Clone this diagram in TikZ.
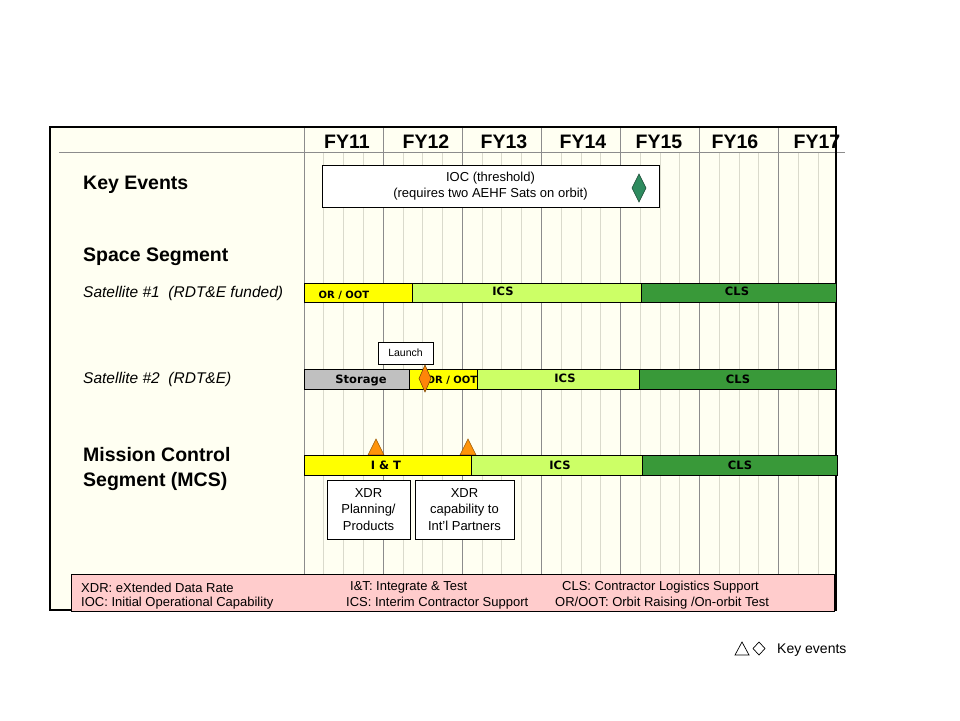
\documentclass[tikz,border=0pt]{standalone}
\usepackage{fontspec}
\setmainfont{Liberation Sans}
\newfontfamily\barfont{DejaVu Sans}

\definecolor{paper}{RGB}{255,255,242}
\definecolor{majorline}{RGB}{140,140,140}
\definecolor{minorline}{RGB}{218,218,204}
\definecolor{ooryellow}{RGB}{255,255,0}
\definecolor{icsgreen}{RGB}{204,255,102}
\definecolor{clsgreen}{RGB}{57,153,57}
\definecolor{storagegray}{RGB}{192,192,192}
\definecolor{legendpink}{RGB}{255,204,204}
\definecolor{eventorange}{RGB}{255,148,10}
\definecolor{eventgreen}{RGB}{46,139,95}

\tikzset{
    heading/.style={anchor=west, inner sep=0pt, font=\fontsize{19.5}{25}\selectfont\bfseries, align=left},
    rowlabel/.style={anchor=west, inner sep=0pt, font=\fontsize{15.5}{18}\selectfont\itshape},
    yearlabel/.style={inner sep=0pt, font=\fontsize{19.5}{23}\selectfont\bfseries},
    phase/.style={draw=black, line width=0.9pt},
    phasetext/.style={inner sep=0pt, font=\barfont\fontsize{11.5}{13}\selectfont\bfseries},
    smallphasetext/.style={inner sep=0pt, font=\barfont\fontsize{10}{11}\selectfont\bfseries},
    notebox/.style={draw=black, fill=white, line width=0.7pt, align=center, inner sep=0pt,
        font=\fontsize{13}{16.5}\selectfont},
    legendtext/.style={anchor=west, inner sep=0pt, font=\fontsize{13}{16}\selectfont},
    eventmark/.style={fill=eventorange, draw=eventorange!60!black, line width=0.6pt},
}

\begin{document}
\begin{tikzpicture}[x=1pt, y=-1pt]
    \useasboundingbox[fill=white] (0,0) rectangle (960,720);

    % chart frame and time grid
    \fill[paper] (50,127) rectangle (836,610);
    \foreach \i in {1,...,26}
        \draw[minorline, line width=0.7pt] ({304+19.775*\i},152) -- ({304+19.775*\i},610);
    \foreach \k in {0,...,6}
        \draw[majorline, line width=0.8pt] ({304+79.1*\k},127) -- ({304+79.1*\k},610);
    \draw[majorline, line width=1pt] (59,152) -- (845,152);
    \draw[line width=2pt] (50,127) rectangle (836,610);

    \foreach \x/\yr in {347/FY11, 426/FY12, 504/FY13, 583/FY14, 659/FY15, 735/FY16, 817/FY17}
        \node[yearlabel] (\yr) at (\x,142) {\yr};

    % row headings
    \node[heading] (keyev) at (83,185) {Key Events};
    \node[heading] (space) at (83,257) {Space Segment};
    \node[rowlabel] (sat1) at (83,293) {Satellite \#1\ \ (RDT\&E funded)};
    \node[rowlabel] (sat2) at (83,379) {Satellite \#2\ \ (RDT\&E)};
    \node[heading] (mcs) at (83,469) {Mission Control\\Segment (MCS)};

    % key events
    \node[notebox, minimum width=337pt, minimum height=42pt] (ioc) at (490.5,186)
        {IOC (threshold)\\(requires two AEHF Sats on orbit)};
    \draw[fill=eventgreen, draw=eventgreen!50!black, line width=0.6pt]
        (639,174) -- (646,188) -- (639,202) -- (632,188) -- cycle;

    % satellite 1
    \draw[phase, fill=ooryellow] (304,283) rectangle (412,302);
    \draw[phase, fill=icsgreen] (412,283) rectangle (641,302);
    \draw[phase, fill=clsgreen] (641,283) rectangle (836,302);
    \node[smallphasetext] (s1oor) at (344,295) {OR / OOT};
    \node[phasetext] (s1ics) at (503,291.5) {ICS};
    \node[phasetext] (s1cls) at (737,291.5) {CLS};

    % satellite 2
    \draw[phase, fill=storagegray] (304,369) rectangle (409,389);
    \draw[phase, fill=ooryellow] (409,369) rectangle (477,389);
    \draw[phase, fill=icsgreen] (477,369) rectangle (639,389);
    \draw[phase, fill=clsgreen] (639,369) rectangle (836,389);
    \node[phasetext] (s2sto) at (361,380) {Storage};
    \node[smallphasetext] (s2oor) at (452,380) {OR / OOT};
    \node[phasetext] (s2ics) at (565,378.5) {ICS};
    \node[phasetext] (s2cls) at (738,379.5) {CLS};
    \node[notebox, font=\fontsize{10.5}{12}\selectfont, minimum width=55pt, minimum height=22pt]
        (launch) at (405.5,353) {Launch};
    \draw[fill=eventorange!90!red, draw=eventorange!50!black, line width=0.6pt]
        (425,365) -- (431,378.5) -- (425,392) -- (419,378.5) -- cycle;

    % mission control segment
    \draw[eventmark] (368,455) -- (376,439) -- (384,455) -- cycle;
    \draw[eventmark] (460,455) -- (468,439) -- (476,455) -- cycle;
    \draw[phase, fill=ooryellow] (304,455) rectangle (471,475);
    \draw[phase, fill=icsgreen] (471,455) rectangle (642,475);
    \draw[phase, fill=clsgreen] (642,455) rectangle (837,475);
    \node[phasetext] (mit) at (386,465.5) {I \& T};
    \node[phasetext] (mics) at (560,465.5) {ICS};
    \node[phasetext] (mcls) at (740,465.5) {CLS};
    \node[notebox, minimum width=83pt, minimum height=59pt] (xdr1) at (368.5,509.5)
        {XDR\\Planning/\\Products};
    \node[notebox, minimum width=99pt, minimum height=59pt] (xdr2) at (464.5,509.5)
        {XDR\\capability to\\Int'l Partners};

    % abbreviations
    \draw[fill=legendpink, line width=0.8pt] (71,574) rectangle (834,611);
    \node[legendtext] (xdr) at (81,587.5) {XDR: eXtended Data Rate};
    \node[legendtext] (ioca) at (81,603.5) {IOC: Initial Operational Capability};
    \node[legendtext] (ita) at (350,587.5) {I\&T:\ Integrate \& Test};
    \node[legendtext] (icsa) at (346,603.5) {ICS:\ Interim Contractor Support};
    \node[legendtext] (clsa) at (562,587.5) {CLS:\ Contractor Logistics Support};
    \node[legendtext] (oora) at (555,603.5) {OR/OOT:\ Orbit Raising /On-orbit Test};

    % key to event marks
    \draw[line width=0.7pt] (735,655) -- (742,642) -- (749,655) -- cycle;
    \draw[line width=0.7pt] (759,642) -- (765,648.5) -- (759,655) -- (753,648.5) -- cycle;
    \node[legendtext, font=\fontsize{14}{16}\selectfont] (keyev2) at (777,650) {Key events};
\end{tikzpicture}
\end{document}
